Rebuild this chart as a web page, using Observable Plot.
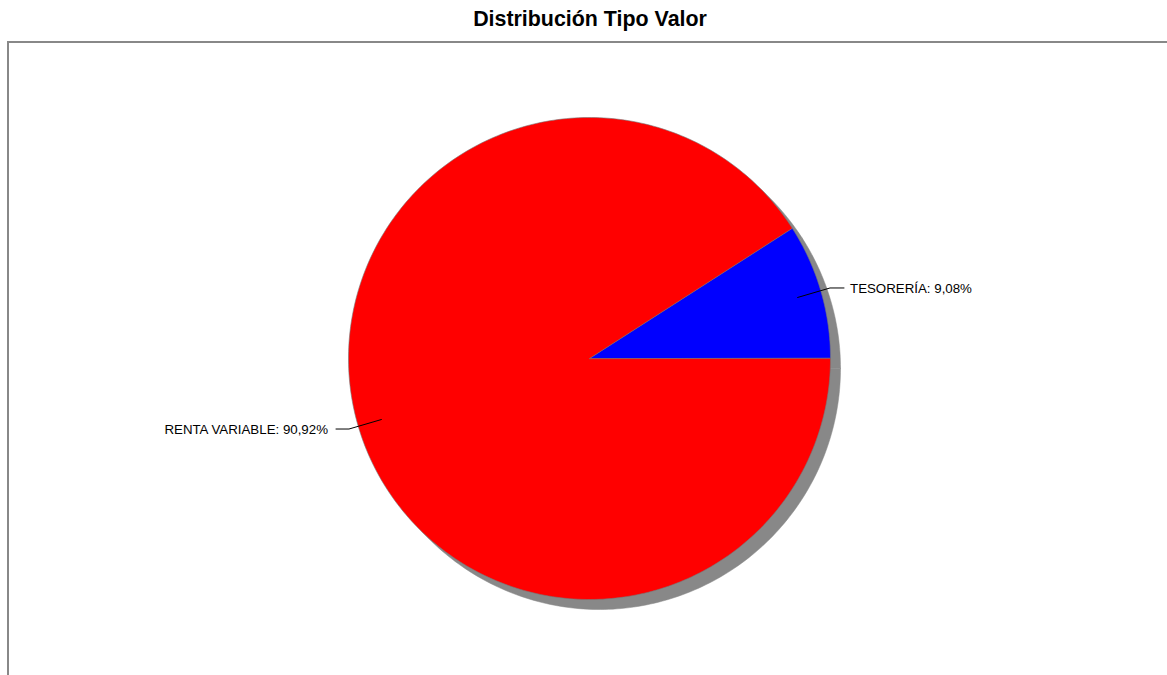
<!DOCTYPE html>
<html>
<head>
<meta charset="utf-8">
<script src="https://cdn.jsdelivr.net/npm/d3@7"></script>
<script src="https://cdn.jsdelivr.net/npm/@observablehq/plot@0.6"></script>
<style>
  body { margin: 0; background: #fff; font-family: "Liberation Sans", Arial, sans-serif; }
  #title { height: 41px; width: 1180px; text-align: center; font-weight: bold; font-size: 21.4px; line-height: 38px; color: #000; }
  #chart { margin-left: 7px; border-top: 2px solid #888; border-left: 2px solid #888; width: 1160px; height: 632px; overflow: hidden; }
  #chart svg { display: block; }
</style>
</head>
<body>
<div id="title">Distribución Tipo Valor</div>
<div id="chart"></div>
<script>
const categories = ["TESORERÍA", "RENTA VARIABLE"];
const values = [9.08, 90.92];
const labels = ["TESORERÍA: 9,08%", "RENTA VARIABLE: 90,92%"];
const colors = ["#0000ff", "#ff0000"];

const W = 1158, H = 632;
const cx = 580, cy = 315, R = 241;
const shadowDx = 10, shadowDy = 10;

const total = d3.sum(values);
let acc = 0;
const slices = categories.map((c, i) => {
  const a0 = acc / total * 2 * Math.PI;
  acc += values[i];
  const a1 = acc / total * 2 * Math.PI;
  return {c, i, a0, a1, mid: (a0 + a1) / 2};
});

function polygon(s, dx, dy, key, fill) {
  const pts = [{x: cx + dx, y: cy + dy, key, fill}];
  const n = Math.max(4, Math.ceil((s.a1 - s.a0) / (Math.PI / 180)));
  for (let k = 0; k <= n; k++) {
    const a = s.a0 + (s.a1 - s.a0) * k / n;
    pts.push({x: cx + dx + R * Math.cos(a), y: cy + dy - R * Math.sin(a), key, fill});
  }
  return pts;
}

const shadowPts = slices.flatMap(s => polygon(s, shadowDx, shadowDy, "sh" + s.i, "#888888"));
const slicePts = slices.flatMap(s => polygon(s, 0, 0, "sl" + s.i, colors[s.i]));

const leaders = slices.flatMap(s => {
  const cos = Math.cos(s.mid), sin = -Math.sin(s.mid);
  const right = cos >= 0;
  const p0 = {x: cx + 0.9 * R * cos, y: cy + 0.9 * R * sin};
  const p1 = {x: cx + 1.04 * R * cos, y: cy + 1.04 * R * sin};
  const p2 = {x: p1.x + (right ? 14 : -13), y: p1.y};
  return [p0, p1, p2].map(p => ({...p, key: s.i}));
});
const textData = slices.map(s => {
  const cos = Math.cos(s.mid), sin = -Math.sin(s.mid);
  const right = cos >= 0;
  const x1 = cx + 1.04 * R * cos + (right ? 14 : -13);
  return {x: x1 + (right ? 6 : -8), y: cy + 1.04 * R * sin + 1, label: labels[s.i], anchor: right ? "start" : "end"};
});

const font = "Liberation Sans, Arial, sans-serif";
const plot = Plot.plot({
  width: W, height: H,
  margin: 0,
  x: {domain: [0, W], range: [0, W], axis: null},
  y: {domain: [0, H], range: [0, H], axis: null},
  color: {type: "identity"},
  marks: [
    Plot.line(shadowPts, {x: "x", y: "y", z: "key", fill: "fill", stroke: "#888888", strokeWidth: 0.5, curve: "linear-closed"}),
    Plot.line(slicePts, {x: "x", y: "y", z: "key", fill: "fill", stroke: "#777777", strokeWidth: 0.6, curve: "linear-closed"}),
    Plot.line(leaders, {x: "x", y: "y", z: "key", stroke: "#000", strokeWidth: 1}),
    Plot.text(textData.filter(d => d.anchor === "start"), {x: "x", y: "y", text: "label", textAnchor: "start", fontSize: 13.3, fontFamily: font, fill: "#000"}),
    Plot.text(textData.filter(d => d.anchor === "end"), {x: "x", y: "y", text: "label", textAnchor: "end", fontSize: 13.3, fontFamily: font, fill: "#000"})
  ]
});
document.getElementById("chart").appendChild(plot);
</script>
</body>
</html>
